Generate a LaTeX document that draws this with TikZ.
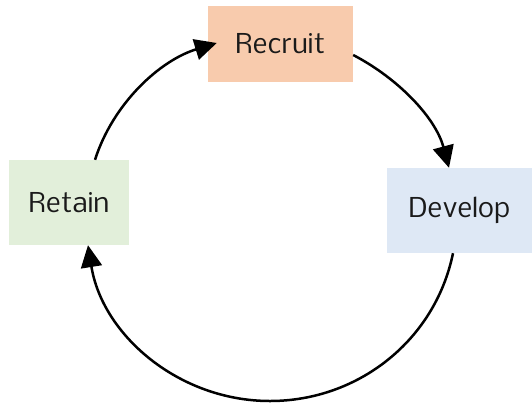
\documentclass[tikz,border=0pt]{standalone}
\usepackage{fontspec}
\setmainfont{Dhyana}
\usetikzlibrary{arrows.meta}
\definecolor{recfill}{HTML}{F8CBAD}
\definecolor{devfill}{HTML}{DEE8F5}
\definecolor{retfill}{HTML}{E2EFDA}
\definecolor{txt}{HTML}{1A1A1A}
\tikzset{
  stagebox/.style={rectangle, inner sep=0pt, text=txt, font=\fontsize{26}{30}\selectfont},
  cyclearrow/.style={line width=2.5pt, -{Triangle[length=22pt,width=21pt]}},
}
\begin{document}
\begin{tikzpicture}[x=1pt,y=-1pt]
\useasboundingbox (0,0) rectangle (532,405);
\node[stagebox, fill=recfill, minimum width=145pt, minimum height=76pt] (rec) at (280.5,44) {Recruit};
\node[stagebox, fill=devfill, minimum width=145pt, minimum height=85pt] (dev) at (459.5,210.5) {Develop};
\node[stagebox, fill=retfill, minimum width=120pt, minimum height=85pt] (ret) at (69,202.5) {Retain};
\coordinate (bot) at (270,401);
\draw[cyclearrow] ([xshift=26pt]ret.north) .. controls (113.1,103.2) and (160,60.4) .. ([shift={(9pt,1pt)}]rec.west);
\draw[cyclearrow] ([yshift=-11pt]rec.east) .. controls (398.4,78.5) and (435.5,117.7) .. ([xshift=-10.5pt]dev.north);
\draw[cyclearrow] ([xshift=-6.5pt]dev.south) .. controls (435.1,340.4) and (358.2,401) .. (bot)
  .. controls (178.8,401) and (102.4,335) .. ([xshift=19pt]ret.south);
\end{tikzpicture}
\end{document}
